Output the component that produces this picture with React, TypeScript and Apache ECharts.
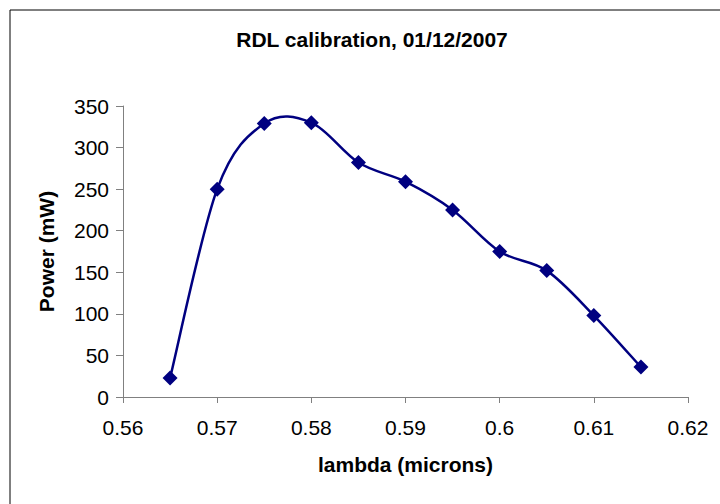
import React, { useEffect, useRef } from "react";
import * as echarts from "echarts";

const lambdaValues = [0.565, 0.57, 0.575, 0.58, 0.585, 0.59, 0.595, 0.6, 0.605, 0.61, 0.615];
const powerValues = [23, 250, 329, 330, 282, 259, 225, 175, 152, 98, 36];
const titleText = "RDL calibration, 01/12/2007";
const xAxisName = "lambda (microns)";
const yAxisName = "Power (mW)";

export default function App() {
  const ref = useRef<HTMLDivElement>(null);
  useEffect(() => {
    if (!ref.current) return;
    const chart = echarts.init(ref.current, null, { renderer: "svg" });
    const font = "Liberation Sans, Arial, sans-serif";
    const points = lambdaValues.map((x, i) => [x, powerValues[i]]);
    chart.setOption({
      animation: false,
      backgroundColor: "#ffffff",
      textStyle: { fontFamily: font },
      title: {
        text: titleText,
        left: 367,
        top: 24,
        textAlign: "center",
        textStyle: { fontFamily: font, fontSize: 21, fontWeight: "bold", color: "#000" },
      },
      graphic: [
        {
          type: "rect",
          shape: { x: 10, y: 10, width: 800, height: 600 },
          style: { fill: "none", stroke: "#000", lineWidth: 1 },
          silent: true,
          z: 100,
        },
      ],
      grid: { left: 123, right: 32, top: 106, bottom: 107, containLabel: false },
      xAxis: {
        type: "value",
        min: 0.56,
        max: 0.62,
        interval: 0.01,
        name: xAxisName,
        nameLocation: "middle",
        nameGap: 57,
        nameTextStyle: { fontFamily: font, fontSize: 21, fontWeight: "bold", color: "#000" },
        axisLine: { show: true, onZero: false, lineStyle: { color: "#808080", width: 1 } },
        axisTick: { show: true, inside: false, length: 6, lineStyle: { color: "#808080" } },
        axisLabel: {
          margin: 20,
          fontFamily: font,
          fontSize: 21,
          color: "#000",
          formatter: (v: number) => String(parseFloat(v.toFixed(3))),
        },
        splitLine: { show: false },
      },
      yAxis: {
        type: "value",
        min: 0,
        max: 350,
        interval: 50,
        name: yAxisName,
        nameLocation: "middle",
        nameGap: 66,
        nameTextStyle: { fontFamily: font, fontSize: 21, fontWeight: "bold", color: "#000" },
        axisLine: { show: true, lineStyle: { color: "#808080", width: 1 } },
        axisTick: { show: true, inside: false, length: 7, lineStyle: { color: "#808080" } },
        axisLabel: { margin: 14, fontFamily: font, fontSize: 21, color: "#000" },
        splitLine: { show: false },
      },
      series: [
        {
          type: "custom",
          data: [points[0]],
          clip: false,
          silent: true,
          z: 2,
          renderItem: (params: any, api: any) => {
            const p = points.map((pt) => api.coord(pt));
            const n = p.length;
            let d = `M${p[0][0]},${p[0][1]}`;
            for (let i = 0; i < n - 1; i++) {
              const p0 = p[Math.max(0, i - 1)];
              const p1 = p[i];
              const p2 = p[i + 1];
              const p3 = p[Math.min(n - 1, i + 2)];
              const c1x = p1[0] + (p2[0] - p0[0]) / 6;
              const c1y = p1[1] + (p2[1] - p0[1]) / 6;
              const c2x = p2[0] - (p3[0] - p1[0]) / 6;
              const c2y = p2[1] - (p3[1] - p1[1]) / 6;
              d += ` C${c1x},${c1y} ${c2x},${c2y} ${p2[0]},${p2[1]}`;
            }
            return {
              type: "path",
              shape: { pathData: d },
              style: { stroke: "#000080", lineWidth: 2.5, fill: "none" },
            };
          },
        },
        {
          type: "scatter",
          data: points,
          symbol: "diamond",
          symbolSize: 15,
          z: 3,
          itemStyle: { color: "#000080", opacity: 1 },
        },
      ],
    });
    return () => chart.dispose();
  }, []);
  return (
    <div
      ref={ref}
      style={{ position: "fixed", left: 0, top: 0, width: 720, height: 504 }}
    />
  );
}
